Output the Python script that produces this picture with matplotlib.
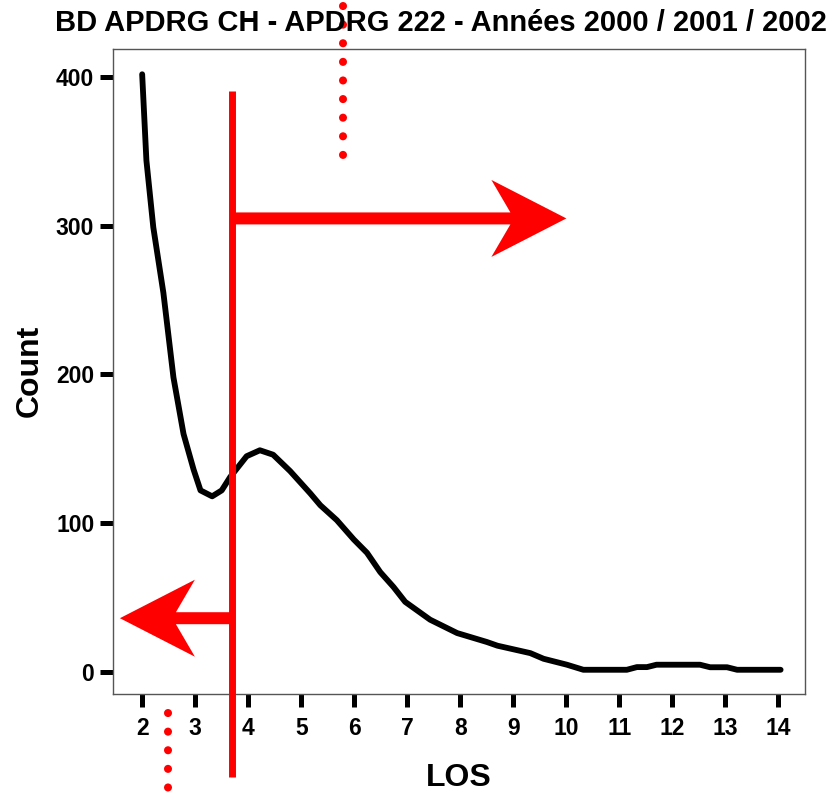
import numpy as np
import matplotlib.pyplot as plt
from matplotlib.patches import Polygon

plt.rcParams['font.family'] = ['Liberation Sans', 'DejaVu Sans']
plt.rcParams['font.weight'] = 'bold'

# curve
los = [2.0, 2.08, 2.21, 2.4, 2.59, 2.78, 2.97, 3.1, 3.32, 3.5, 3.66, 3.97, 4.22,
       4.47, 4.79, 5.17, 5.36, 5.67, 5.99, 6.24, 6.49, 6.74, 6.96, 7.43, 7.94,
       8.5, 8.7, 9.32, 9.57, 10.01, 10.32, 11.14, 11.33, 11.52, 11.7, 12.52,
       12.71, 13.03, 13.22, 14.04]
count = [402, 344, 299, 255, 198, 160, 136, 122, 118, 122, 131, 145, 149,
         146, 135, 120, 112, 102, 89, 80, 67, 57, 47, 35, 26,
         20, 17.5, 12.5, 8.7, 4.7, 1.3, 1.3, 3.1, 3.1, 4.7, 4.7,
         3, 3, 1.3, 1.3]

cutoff = 3.69                # red vertical line
cut_top, cut_bottom = 391, -71
right_tip, right_y = 10.0, 305
left_tip, left_y = 1.58, 36
dot_top_x, dot_top = 5.79, (448, 348)
dot_bot_x, dot_bot = 2.48, (-28, -84)

xticks = list(range(2, 15))
yticks = [0, 100, 200, 300, 400]
title = "BD APDRG CH - APDRG 222 - Années 2000 / 2001 / 2002"

fig = plt.figure(figsize=(8.39, 7.96), dpi=100)
ax = fig.add_axes([113 / 839, 1 - 694 / 796, 692 / 839, 645 / 796])
ax.set_xlim(1.45, 14.5)
ax.set_ylim(-15, 419)

ax.plot(los, count, color='black', lw=4.2, solid_capstyle='round',
        solid_joinstyle='round', zorder=3)

for s in ax.spines.values():
    s.set_color('#555555')
    s.set_linewidth(1)
ax.set_xticks(xticks)
ax.set_yticks(yticks)
ax.tick_params(width=3.6, length=9.5, labelsize=16.5, color='black')
ax.tick_params(axis='x', pad=7)
ax.tick_params(axis='y', pad=4)
for lab in ax.get_xticklabels() + ax.get_yticklabels():
    lab.set_fontweight('bold')

ax.plot([cutoff, cutoff], [cut_bottom, cut_top], color='red', lw=5,
        solid_capstyle='butt', clip_on=False, zorder=4)

# pixel -> data scale
fig.canvas.draw()
sx = (ax.transData.transform((2, 0))[0] - ax.transData.transform((1, 0))[0])
sy = (ax.transData.transform((0, 100))[1] - ax.transData.transform((0, 0))[1]) / 100


def arrow(x0, x1, y, shaft=6, hlen=75, hhalf=38.5, notch=56):
    d = 1 if x1 > x0 else -1
    pts = [(x0, y - shaft / sy), (x1 - d * notch / sx, y - shaft / sy),
           (x1 - d * hlen / sx, y - hhalf / sy), (x1, y),
           (x1 - d * hlen / sx, y + hhalf / sy), (x1 - d * notch / sx, y + shaft / sy),
           (x0, y + shaft / sy)]
    ax.add_patch(Polygon(pts, closed=True, color='red', lw=0, clip_on=False, zorder=4))


arrow(cutoff, right_tip, right_y)
arrow(cutoff, left_tip, left_y)

for xx, (a, b) in [(dot_top_x, dot_top), (dot_bot_x, dot_bot)]:
    ax.plot([xx, xx], [a, b], color='red', lw=5.8, linestyle=(0, (0.01, 2.3)),
            dash_capstyle='round', clip_on=False, zorder=5)

ax.set_xlabel('LOS', fontsize=23, fontweight='bold')
ax.set_ylabel('Count', fontsize=23, fontweight='bold')
ax.xaxis.set_label_coords(0.5, -(778 - 694) / 645)
ax.yaxis.set_label_coords(-(113 - 30) / 692, 1 - (371 - 49) / 645)
ax.xaxis.label.set_va('center')
ax.yaxis.label.set_va('center')

fig.text(441 / 839, 1 - 23 / 796, title, ha='center', va='center',
         fontsize=21, fontweight='bold')

fig.savefig('out.png', dpi=100)
